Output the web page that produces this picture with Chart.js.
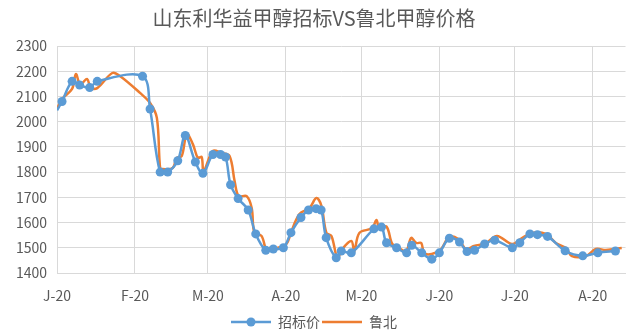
<!DOCTYPE html>
<html lang="zh">
<head>
<meta charset="UTF-8">
<title>山东利华益甲醇招标VS鲁北甲醇价格</title>
<script src="https://cdn.jsdelivr.net/npm/chart.js"></script>
<style>
  html, body { margin: 0; padding: 0; background: #fff; }
  #wrap { width: 630px; height: 335px; }
</style>
</head>
<body>
<div id="wrap"><canvas id="priceChart" width="630" height="335"></canvas></div>
<script>
// x = day of 2020 (0 = 1 Jan)
const bidDays = [0, 2, 6, 9, 13, 16, 34, 37, 41, 44, 48, 51, 55, 58, 62, 65, 67, 69, 72, 76, 79, 83, 86, 90, 93, 97, 100, 103, 105, 107, 111, 113, 117, 126, 129, 131, 135, 139, 141, 145, 149, 152, 156, 160, 163, 166, 170, 174, 181, 184, 188, 191, 195, 202, 209, 215, 222];
const bidPrices = [2045, 2080, 2160, 2145, 2135, 2160, 2180, 2050, 1800, 1800, 1845, 1945, 1840, 1795, 1870, 1870, 1860, 1750, 1695, 1650, 1555, 1490, 1495, 1500, 1560, 1620, 1650, 1655, 1650, 1540, 1460, 1487, 1480, 1575, 1582, 1520, 1500, 1480, 1510, 1480, 1455, 1480, 1538, 1523, 1485, 1490, 1515, 1530, 1500, 1520, 1555, 1552, 1545, 1488, 1468, 1480, 1487];

const lubeiDays = [0, 2, 6, 7.5, 9, 10, 12, 13.5, 16, 22, 25, 33, 37, 39.7, 41, 42, 46, 47.6, 49.6, 51.6, 54, 56, 57.5, 58.3, 62, 65.4, 68.6, 70.6, 72.2, 75.4, 77.4, 78.5, 81.3, 83.3, 84.5, 87.3, 91.2, 93.2, 96.4, 100.4, 103.1, 105.1, 107.1, 109.1, 111.5, 113.4, 117, 118.2, 120.2, 125.3, 127, 128.1, 131, 133.3, 136, 138.8, 140.8, 142.8, 144.8, 146, 149, 152.7, 155.9, 159.5, 162.6, 165.8, 170.6, 174.9, 180.9, 184.4, 188.8, 194.4, 198.3, 202.3, 204.7, 210.2, 214.2, 218.2, 224.5];
const lubeiPrices = [2050, 2090, 2130, 2189, 2149, 2153, 2169, 2133, 2133, 2193, 2181, 2114, 2074, 2015, 1816, 1812, 1816, 1856, 1864, 1951, 1911, 1856, 1860, 1804, 1884, 1876, 1864, 1765, 1705, 1705, 1658, 1559, 1547, 1487, 1499, 1499, 1515, 1566, 1634, 1658, 1697, 1666, 1559, 1547, 1459, 1495, 1527, 1487, 1559, 1578, 1610, 1578, 1584, 1515, 1499, 1487, 1539, 1519, 1519, 1479, 1475, 1495, 1543, 1535, 1495, 1507, 1519, 1547, 1515, 1535, 1559, 1555, 1519, 1499, 1467, 1467, 1495, 1491, 1499];

const monthStarts = [0, 31, 60, 91, 121, 152, 182, 213];
const monthLabels = ['J-20', 'F-20', 'M-20', 'A-20', 'M-20', 'J-20', 'J-20', 'A-20'];

const blue = '#5B9BD5';
const orange = '#ED7D31';
const textColor = '#595959';
const gridColor = '#d9d9d9';
const cjk = '"Noto Sans CJK SC", "Noto Sans", sans-serif';

function toPoints(days, values) {
    return days.map((d, i) => ({ x: d, y: values[i] }));
}

// legend swatches: line with a dot, line only
function legendIcon(color, dot) {
    const c = document.createElement('canvas');
    c.width = 40; c.height = 12;
    const g = c.getContext('2d');
    g.strokeStyle = color;
    g.lineWidth = 2.5;
    g.beginPath(); g.moveTo(0, 6); g.lineTo(40, 6); g.stroke();
    if (dot) {
        g.fillStyle = color;
        g.beginPath(); g.arc(20, 6, 4.5, 0, Math.PI * 2); g.fill();
    }
    return c;
}
const icons = [legendIcon(blue, true), legendIcon(orange, false)];

const ctx = document.getElementById('priceChart').getContext('2d');
new Chart(ctx, {
    type: 'line',
    data: {
        datasets: [{
            label: '招标价',
            data: toPoints(bidDays, bidPrices),
            borderColor: blue,
            backgroundColor: blue,
            borderWidth: 2.5,
            pointRadius: bidDays.map((d, i) => i === 0 ? 0 : 4.5),
            pointBorderWidth: 0,
            tension: 0.35,
            fill: false
        }, {
            label: '鲁北',
            data: toPoints(lubeiDays, lubeiPrices),
            borderColor: orange,
            backgroundColor: orange,
            borderWidth: 2.5,
            pointRadius: 0,
            tension: 0.35,
            fill: false
        }]
    },
    options: {
        responsive: false,
        animation: false,
        layout: { padding: { left: 0, right: 2, top: 4, bottom: -4 } },
        scales: {
            x: {
                type: 'linear',
                min: 0,
                max: 226,
                afterBuildTicks: axis => { axis.ticks = monthStarts.map(v => ({ value: v })); },
                afterFit: axis => { axis.height = 40; },
                ticks: {
                    color: textColor,
                    font: { family: cjk, size: 14 },
                    padding: 14,
                    maxRotation: 0,
                    autoSkip: false,
                    callback: (value) => monthLabels[monthStarts.indexOf(value)]
                },
                grid: { color: gridColor, lineWidth: 1, drawTicks: false },
                border: { color: gridColor }
            },
            y: {
                min: 1400,
                max: 2300,
                afterFit: axis => { axis.width = 57; },
                ticks: {
                    stepSize: 100,
                    color: textColor,
                    font: { family: cjk, size: 14 },
                    padding: 10,
                    callback: value => String(value)
                },
                grid: { color: gridColor, lineWidth: 1, drawTicks: false },
                border: { color: gridColor }
            }
        },
        plugins: {
            title: {
                display: true,
                text: '山东利华益甲醇招标VS鲁北甲醇价格',
                color: textColor,
                font: { family: cjk, size: 20, weight: 'normal' },
                padding: { top: 2, bottom: 16 }
            },
            legend: {
                position: 'bottom',
                labels: {
                    color: textColor,
                    font: { family: cjk, size: 14 },
                    usePointStyle: true,
                    pointStyleWidth: 40,
                    padding: 2,
                    generateLabels: chart => chart.data.datasets.map((ds, i) => ({
                        text: ds.label,
                        pointStyle: icons[i],
                        fillStyle: ds.borderColor,
                        strokeStyle: ds.borderColor,
                        lineWidth: 0,
                        fontColor: textColor,
                        datasetIndex: i
                    }))
                }
            },
            tooltip: { enabled: false }
        }
    }
});
</script>
</body>
</html>
